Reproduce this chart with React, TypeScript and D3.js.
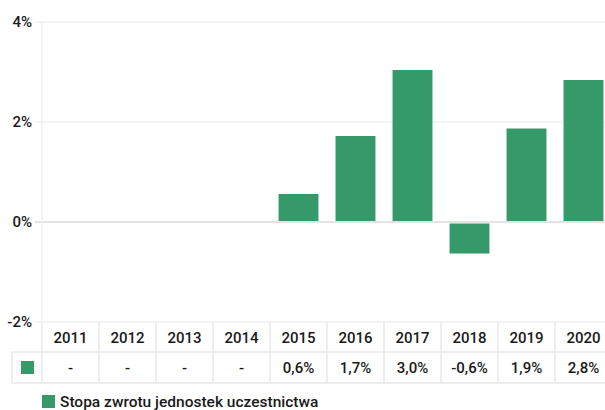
import React from 'react';
import * as d3 from 'd3';

const categories = ['2011', '2012', '2013', '2014', '2015', '2016', '2017', '2018', '2019', '2020'];
const values: (number | null)[] = [null, null, null, null, 0.56, 1.72, 3.04, -0.63, 1.87, 2.84];
const valueLabels = ['-', '-', '-', '-', '0,6%', '1,7%', '3,0%', '-0,6%', '1,9%', '2,8%'];
const yTicks = [4, 2, 0, -2];
const seriesName = 'Stopa zwrotu jednostek uczestnictwa';

const GREEN = '#36996a';
const FONT = 'Roboto, "Open Sans", sans-serif';

export default function App() {
  const W = 605, H = 410;
  const left = 42, right = 612, top = 22, bottom = 322;
  const x = d3.scaleBand<string>().domain(categories).range([left, right]).paddingInner(0.3).paddingOuter(0.15);
  const xc = d3.scaleBand<string>().domain(categories).range([left, right]);
  const y = d3.scaleLinear().domain([-2, 4]).range([bottom, top]);
  const row1Top = bottom, row1Bot = 352, row2Bot = 383;
  const tableLeft = 12;

  return (
    <svg width={W} height={H} style={{ position: 'absolute', left: 0, top: 0, fontFamily: FONT }}>
      <rect width={W} height={H} fill="#fff" />
      {yTicks.map(t => (
        <g key={t}>
          <line x1={35} x2={W} y1={y(t)} y2={y(t)} stroke={t === 0 ? '#e4e4e4' : '#f0f0f0'} strokeWidth={t === 0 ? 2 : 1.5} />
          <text x={32} y={y(t)} dy="0.35em" textAnchor="end" fontSize={15} fontWeight={500} fill="#1a1a1a">{t}%</text>
        </g>
      ))}
      <line x1={left} x2={left} y1={top} y2={bottom} stroke="#f0f0f0" strokeWidth={1.5} />
      {categories.map((c, i) => {
        const v = values[i];
        if (v == null) return null;
        const y0 = y(0), y1 = y(v);
        return (
          <rect key={c} x={x(c)} width={x.bandwidth()} y={v >= 0 ? y1 : y0 + 1.5} height={v >= 0 ? y0 - 1 - y1 : y1 - y0 - 1.5} fill={GREEN} />
        );
      })}
      {/* table */}
      <line x1={tableLeft} x2={W} y1={row1Bot} y2={row1Bot} stroke="#e8e8e8" strokeWidth={1.5} />
      <line x1={tableLeft} x2={W} y1={row2Bot} y2={row2Bot} stroke="#e8e8e8" strokeWidth={1.5} />
      <line x1={tableLeft} x2={tableLeft} y1={row1Bot} y2={row2Bot} stroke="#e8e8e8" strokeWidth={1.5} />
      {categories.map((c) => (
        <line key={'v' + c} x1={xc(c)} x2={xc(c)} y1={row1Top} y2={row2Bot} stroke="#e8e8e8" strokeWidth={1.5} />
      ))}
      {categories.map((c, i) => (
        <g key={'t' + c}>
          <text x={xc(c)! + xc.bandwidth() / 2} y={(row1Top + row1Bot) / 2 + 1} dy="0.35em" textAnchor="middle" fontSize={15} fontWeight={500} fill="#1a1a1a">{c}</text>
          <text x={xc(c)! + xc.bandwidth() / 2} y={(row1Bot + row2Bot) / 2} dy="0.35em" textAnchor="middle" fontSize={15} fontWeight={500} fill="#1a1a1a">{valueLabels[i]}</text>
        </g>
      ))}
      <rect x={21} y={361} width={13} height={13} fill={GREEN} />
      {/* legend */}
      <rect x={42} y={395} width={13} height={13} fill={GREEN} />
      <text x={60} y={402} dy="0.35em" fontSize={15.5} fontWeight={500} fill="#1a1a1a">{seriesName}</text>
    </svg>
  );
}
